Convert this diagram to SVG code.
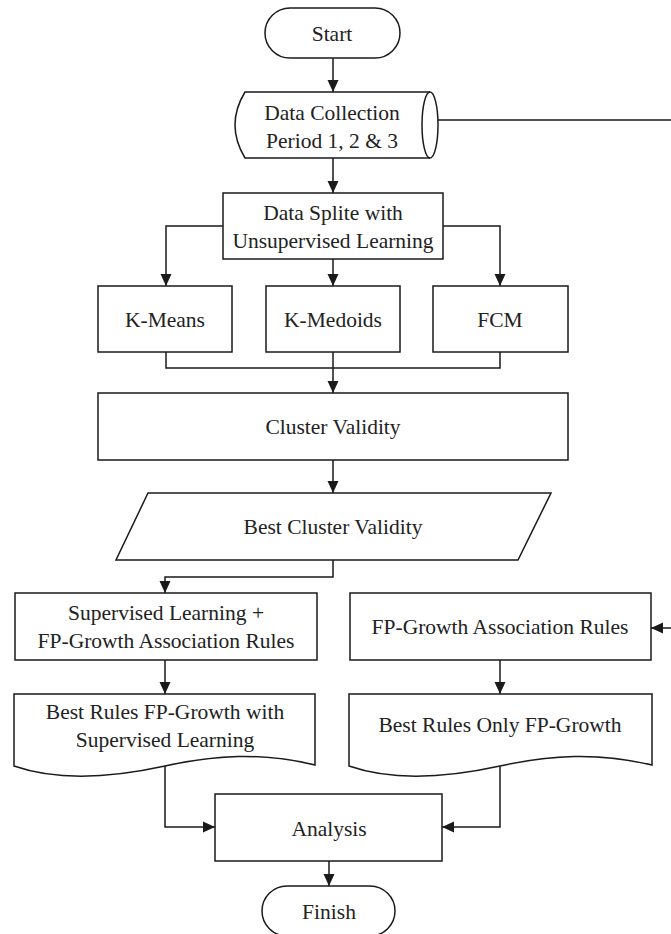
<svg xmlns="http://www.w3.org/2000/svg" width="671" height="934" viewBox="0 0 671 934">
<defs>
<style>
.s{fill:#fff;stroke:#1a1a1a;stroke-width:1.5}
.c{fill:none;stroke:#1a1a1a;stroke-width:1.5}
.t{font-family:"Liberation Serif","Times New Roman",serif;font-size:21.5px;fill:#222;text-anchor:middle}
</style>
<marker id="ah" viewBox="0 0 12 12" refX="12" refY="6" markerWidth="12" markerHeight="12" markerUnits="userSpaceOnUse" orient="auto">
<path d="M0,0.5 L12,6 L0,11.5 z" fill="#1a1a1a"/>
</marker>
</defs>
<rect width="671" height="934" fill="#fff"/>
<g id="connectors">
<path class="c" d="M333,58 V92" marker-end="url(#ah)"/>
<path class="c" d="M333,158 V193" marker-end="url(#ah)"/>
<path class="c" d="M223,226 H166 V286" marker-end="url(#ah)"/>
<path class="c" d="M333,259 V286" marker-end="url(#ah)"/>
<path class="c" d="M443,226 H500 V286" marker-end="url(#ah)"/>
<path class="c" d="M166,352 V368 H500 V352"/>
<path class="c" d="M333,352 V393" marker-end="url(#ah)"/>
<path class="c" d="M333,460 V493" marker-end="url(#ah)"/>
<path class="c" d="M333,560 V577 H165 V593" marker-end="url(#ah)"/>
<path class="c" d="M165,660 V694" marker-end="url(#ah)"/>
<path class="c" d="M500,660 V694" marker-end="url(#ah)"/>
<path class="c" d="M165,766 V827 H215" marker-end="url(#ah)"/>
<path class="c" d="M500,766 V827 H442" marker-end="url(#ah)"/>
<path class="c" d="M329,861 V886" marker-end="url(#ah)"/>
<path class="c" d="M438,120 H690 V628 H651" marker-end="url(#ah)"/>
</g>
<g id="start">
<rect class="s" x="265" y="8" width="135" height="50" rx="25"/>
<text class="t" x="332" y="41">Start</text>
</g>
<g id="data-collection">
<path class="s" d="M245,92 H430 A8,33 0 0 1 430,158 H245 Q225,125 245,92 Z"/>
<path class="c" d="M430,92 A8,33 0 0 0 430,158"/>
<text class="t" x="332" y="120">Data Collection</text>
<text class="t" x="332" y="148">Period 1, 2 &amp; 3</text>
</g>
<g id="data-splite">
<rect class="s" x="223" y="193" width="220" height="66"/>
<text class="t" x="333" y="220">Data Splite with</text>
<text class="t" x="333" y="248">Unsupervised Learning</text>
</g>
<g id="kmeans">
<rect class="s" x="98" y="286" width="134" height="66"/>
<text class="t" x="165" y="327">K-Means</text>
</g>
<g id="kmedoids">
<rect class="s" x="266" y="286" width="134" height="66"/>
<text class="t" x="333" y="327">K-Medoids</text>
</g>
<g id="fcm">
<rect class="s" x="433" y="286" width="135" height="66"/>
<text class="t" x="500" y="327">FCM</text>
</g>
<g id="cluster-validity">
<rect class="s" x="98" y="393" width="470" height="67"/>
<text class="t" x="333" y="434">Cluster Validity</text>
</g>
<g id="best-cluster-validity">
<path class="s" d="M148,493 H551 L518,560 H116 Z"/>
<text class="t" x="333" y="534">Best Cluster Validity</text>
</g>
<g id="supervised">
<rect class="s" x="15" y="593" width="302" height="67"/>
<text class="t" x="166" y="620">Supervised Learning +</text>
<text class="t" x="166" y="648">FP-Growth Association Rules</text>
</g>
<g id="fp-growth">
<rect class="s" x="350" y="593" width="301" height="67"/>
<text class="t" x="500" y="634">FP-Growth Association Rules</text>
</g>
<g id="best-rules-supervised">
<path class="s" d="M14,694 H315 V765 C260,752 215,755 165,766 C115,777 60,782 14,766 Z"/>
<text class="t" x="165" y="719">Best Rules FP-Growth with</text>
<text class="t" x="165" y="747">Supervised Learning</text>
</g>
<g id="best-rules-only">
<path class="s" d="M349,694 H652 V765 C597,752 550,755 500,766 C450,777 395,782 349,766 Z"/>
<text class="t" x="500" y="732">Best Rules Only FP-Growth</text>
</g>
<g id="analysis">
<rect class="s" x="215" y="794" width="227" height="67"/>
<text class="t" x="329" y="836">Analysis</text>
</g>
<g id="finish">
<rect class="s" x="262" y="886" width="133" height="50" rx="25"/>
<text class="t" x="329" y="919">Finish</text>
</g>
</svg>
